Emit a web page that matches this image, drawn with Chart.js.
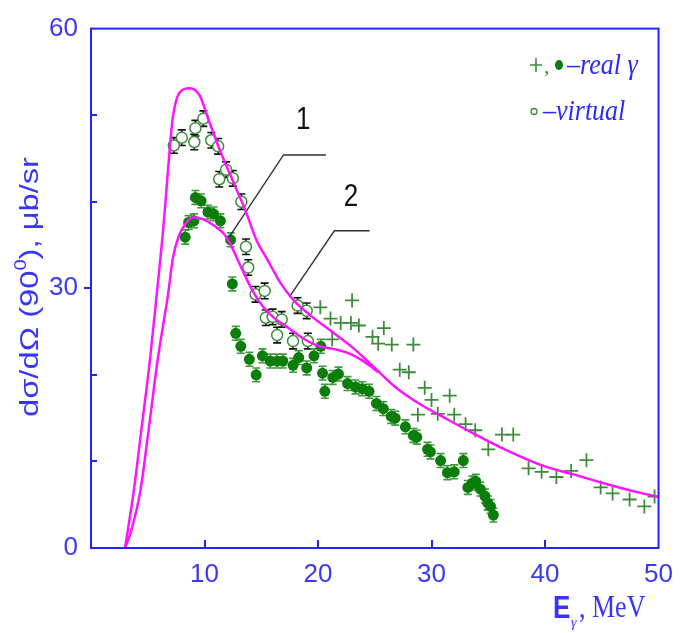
<!DOCTYPE html>
<html>
<head>
<meta charset="utf-8">
<script src="https://cdn.jsdelivr.net/npm/chart.js@4.4.0/dist/chart.umd.min.js"></script>
<style>
  html, body { margin: 0; padding: 0; background: #fff; }
  #wrap { width: 684px; height: 633px; }
</style>
</head>
<body>
<div id="wrap"><canvas id="chart" width="684" height="633"></canvas></div>
<script>
// virtual photons (open circles), MeV / mkb/sr
const virtualE  = [7.3, 8.0, 9.1, 9.2, 9.9, 10.6, 11.2, 11.3, 11.9, 12.5, 13.25, 13.65, 13.85, 14.5, 15.3, 15.4, 16.0, 16.4, 16.8, 17.8, 18.2, 19.0, 19.1];
const virtualXs = [46.5, 47.4, 46.9, 48.5, 49.6, 47.1, 46.4, 42.6, 43.7, 42.7, 40.0, 34.8, 32.4, 29.3, 29.7, 26.6, 26.7, 24.6, 26.4, 23.9, 28.0, 27.4, 23.9];
const virtualErr = 0.9;

// real photons, first set (filled circles)
const realDotE  = [8.3, 8.6, 9.07, 9.2, 9.7, 10.3, 10.8, 11.4, 12.3, 12.45, 12.75, 13.2, 13.95, 14.55, 15.1, 15.8, 16.4, 16.9, 17.8, 18.3, 19.0, 19.65, 20.25, 20.4, 20.6, 21.3, 21.8, 22.6, 23.3, 23.9, 24.5, 25.15, 25.75, 26.45, 26.8, 27.7, 28.4, 28.7, 29.65, 29.9, 30.8, 31.4, 32.0, 32.8, 33.2, 33.6, 33.9, 34.3, 34.7, 34.95, 35.2, 35.45];
const realDotXs = [35.9, 37.6, 37.8, 40.5, 40.1, 38.8, 38.6, 37.8, 35.6, 30.5, 24.8, 23.3, 21.8, 20.0, 22.2, 21.6, 21.6, 21.6, 21.1, 22.0, 20.8, 22.2, 23.3, 20.2, 18.1, 19.7, 20.1, 19.0, 18.6, 18.4, 18.1, 16.7, 16.1, 15.2, 15.0, 14.0, 13.0, 12.8, 11.4, 11.1, 10.1, 8.7, 8.8, 10.1, 7.0, 7.5, 7.7, 6.8, 6.0, 5.2, 4.8, 3.8];
const realDotErr = 0.8;

// real photons, second set (crosses)
const realCrossE  = [20.2, 21.1, 21.25, 22.0, 22.9, 23.0, 23.6, 24.8, 25.3, 25.8, 26.5, 27.2, 28.0, 28.4, 28.8, 29.4, 30.0, 30.55, 31.6, 32.0, 33.0, 33.85, 35.0, 36.2, 37.2, 38.55, 39.7, 41.0, 42.3, 43.65, 44.9, 45.95, 47.45, 48.75, 49.65];
const realCrossXs = [27.8, 26.5, 24.1, 26.0, 26.0, 28.6, 25.7, 24.4, 23.6, 25.4, 23.5, 20.6, 20.3, 23.5, 15.4, 18.5, 17.1, 15.5, 17.6, 15.4, 14.3, 13.6, 11.4, 13.1, 13.1, 9.2, 8.8, 8.2, 8.9, 10.15, 7.0, 6.3, 5.6, 4.8, 5.95];

// calculation 1 (lower curve)
const curve1E  = [3.0, 3.5, 4.35, 5.13, 5.88, 6.8, 7.2, 7.7, 8.3, 9.1, 10.0, 10.9, 11.7, 12.2, 13.2, 14.2, 15.2, 16.2, 17.0, 18.7, 20.1, 21.3, 22.5, 23.6, 24.5, 25.3];
const curve1Xs = [0, 1.8, 6.6, 14.2, 21.8, 29.4, 33.4, 35.9, 37.4, 38.2, 37.9, 37.2, 36.3, 35.3, 32.5, 29.8, 27.8, 26.5, 25.8, 24.2, 23.3, 23.0, 22.6, 21.9, 21.1, 20.3];

// calculation 2 (upper curve)
const curve2E  = [3.0, 3.77, 4.49, 5.2, 5.8, 6.4, 6.8, 7.2, 7.8, 8.7, 9.6, 10.4, 11.4, 12.5, 13.6, 14.6, 15.5, 16.7, 17.8, 19.3, 21.0, 23.0, 25.0, 26.8, 29.0, 31.2, 33.6, 36.6, 39.6, 42.5, 45.4, 48.3, 50.0];
const curve2Xs = [0, 6.6, 14.2, 21.8, 29.4, 37.4, 43.9, 49.6, 52.6, 53.1, 52.2, 49.3, 45.8, 42.4, 39.0, 35.5, 33.4, 30.6, 28.7, 26.9, 25.2, 23.2, 20.8, 18.6, 16.6, 15.0, 13.3, 11.3, 9.6, 8.5, 7.4, 6.4, 5.9];

// leader lines for the curve numbers
const leader1E  = [20.7, 16.96, 12.17];
const leader1Xs = [45.4, 45.4, 35.9];
const leader2E  = [24.55, 21.44, 17.48];
const leader2Xs = [36.65, 36.65, 29.0];
const curveTags = [{ t: '1', x: 18.7, y: 49.4 }, { t: '2', x: 22.9, y: 40.5 }];

const xTicks = [10, 20, 30, 40, 50];
const yTickLabels = [0, 30, 60];

const toPts = (xs, ys) => xs.map((v, i) => ({ x: v, y: ys[i] }));

const BLUE = '#2323ff';
const TICKBLUE = '#3a3af5';
const SANS = "'Liberation Sans Narrow', 'Liberation Sans', Arial, sans-serif";
const PLAIN = "'Liberation Sans', Arial, sans-serif";
const SERIF = "'Liberation Serif', 'Times New Roman', serif";

function stretched(ctx, txt, x, y, sy) {
    ctx.save();
    ctx.translate(x, y);
    ctx.scale(1, sy);
    ctx.fillText(txt, 0, 0);
    ctx.restore();
}

// error bars under the points
const errorBars = {
    id: 'errorBars',
    beforeDatasetsDraw(chart) {
        const { ctx, scales: { x, y } } = chart;
        chart.data.datasets.forEach(ds => {
            if (!ds.errY) return;
            ctx.save();
            ctx.strokeStyle = ds.errColor;
            ctx.lineWidth = 1.6;
            ds.data.forEach(p => {
                const px = x.getPixelForValue(p.x);
                const top = y.getPixelForValue(p.y + ds.errY);
                const bot = y.getPixelForValue(p.y - ds.errY);
                ctx.beginPath();
                ctx.moveTo(px, top); ctx.lineTo(px, bot);
                ctx.moveTo(px - 4, top); ctx.lineTo(px + 4, top);
                ctx.moveTo(px - 4, bot); ctx.lineTo(px + 4, bot);
                ctx.stroke();
            });
            ctx.restore();
        });
    }
};

// frame, inward ticks, titles, legend, curve numbers
const decorations = {
    id: 'decorations',
    afterDraw(chart) {
        const { ctx, chartArea: a, scales: { x, y } } = chart;
        ctx.save();
        ctx.strokeStyle = BLUE;
        ctx.lineWidth = 2;
        ctx.strokeRect(a.left, a.top, a.right - a.left, a.bottom - a.top);

        ctx.beginPath();
        [10, 20, 40, 50].forEach(v => {
            const py = Math.round(y.getPixelForValue(v));
            ctx.moveTo(a.left, py); ctx.lineTo(a.left + 6, py);
        });
        const p30 = Math.round(y.getPixelForValue(30));
        ctx.moveTo(a.left - 7, p30); ctx.lineTo(a.left, p30);
        [10, 20, 30, 40].forEach(v => {
            const px = Math.round(x.getPixelForValue(v));
            ctx.moveTo(px, a.bottom); ctx.lineTo(px, a.bottom - 8);
        });
        ctx.stroke();

        // y title, fitted to the span it has in the original (about 260 px)
        ctx.fillStyle = '#3535ff';
        ctx.save();
        ctx.translate(29, 287);
        ctx.rotate(-Math.PI / 2);
        ctx.textBaseline = 'middle';
        const big = '26px ' + PLAIN;
        const small = '16px ' + PLAIN;
        const parts = [['dσ/dΩ (90', big, 0], ['0', small, -9], ['), μb/sr', big, 0]];
        let total = 0;
        parts.forEach(p => { ctx.font = p[1]; total += ctx.measureText(p[0]).width; });
        ctx.scale(260 / total, 1);
        let cx = -total / 2;
        ctx.textAlign = 'left';
        parts.forEach(p => {
            ctx.font = p[1];
            ctx.fillText(p[0], cx, p[2] + 2);
            cx += ctx.measureText(p[0]).width;
        });
        ctx.restore();

        // x title
        ctx.textAlign = 'left';
        ctx.textBaseline = 'alphabetic';
        ctx.font = 'bold 26px ' + SANS;
        stretched(ctx, 'E', 553, 618, 1.2);
        ctx.font = 'italic 14px ' + SERIF;
        stretched(ctx, 'γ', 571, 627, 1.1);
        ctx.font = '26px ' + SERIF;
        stretched(ctx, ',', 579, 617, 1.18);
        stretched(ctx, 'MeV', 592, 617, 1.18);

        // legend
        ctx.strokeStyle = '#3c8c3c';
        ctx.lineWidth = 1.6;
        ctx.beginPath();
        ctx.moveTo(530, 65); ctx.lineTo(542, 65);
        ctx.moveTo(536, 58); ctx.lineTo(536, 72);
        ctx.stroke();
        ctx.fillStyle = '#3c8c3c';
        ctx.font = '22px ' + SERIF;
        ctx.fillText(',', 544, 73);
        ctx.fillStyle = '#0b7d0b';
        ctx.beginPath();
        ctx.ellipse(559, 65, 4, 5, 0, 0, Math.PI * 2);
        ctx.fill();
        ctx.beginPath();
        ctx.strokeStyle = '#3c8c3c';
        ctx.lineWidth = 1.3;
        ctx.arc(534, 111.5, 3, 0, Math.PI * 2);
        ctx.stroke();
        ctx.fillStyle = '#2a2aff';
        ctx.font = 'italic 26px ' + SERIF;
        stretched(ctx, '–real γ', 567, 74, 1.15);
        stretched(ctx, '–virtual', 543, 120, 1.15);

        // curve numbers
        ctx.fillStyle = '#111';
        ctx.font = '26px ' + PLAIN;
        ctx.textAlign = 'center';
        ctx.textBaseline = 'middle';
        curveTags.forEach(c => {
            stretched(ctx, c.t, x.getPixelForValue(c.x), y.getPixelForValue(c.y), 1.2);
        });
        ctx.restore();
    }
};

const tickFont = { family: SANS, size: 26 };

new Chart(document.getElementById('chart'), {
    type: 'scatter',
    data: {
        datasets: [
            {
                label: 'curve 1',
                data: toPts(curve1E, curve1Xs),
                showLine: true,
                borderColor: '#ff14ff',
                borderWidth: 2.5,
                pointRadius: 0,
                cubicInterpolationMode: 'monotone',
                order: 0
            },
            {
                label: 'curve 2',
                data: toPts(curve2E, curve2Xs),
                showLine: true,
                borderColor: '#ff14ff',
                borderWidth: 2.5,
                pointRadius: 0,
                cubicInterpolationMode: 'monotone',
                order: 0
            },
            {
                label: 'leader 1',
                data: toPts(leader1E, leader1Xs),
                showLine: true,
                borderColor: '#333',
                borderWidth: 1.4,
                pointRadius: 0,
                order: 0
            },
            {
                label: 'leader 2',
                data: toPts(leader2E, leader2Xs),
                showLine: true,
                borderColor: '#333',
                borderWidth: 1.4,
                pointRadius: 0,
                order: 0
            },
            {
                label: 'virtual',
                data: toPts(virtualE, virtualXs),
                pointStyle: 'circle',
                pointRadius: 5.5,
                backgroundColor: '#ffffff',
                borderColor: '#3c8c3c',
                borderWidth: 1.5,
                errY: virtualErr,
                errColor: '#111',
                order: 2
            },
            {
                label: 'real (dots)',
                data: toPts(realDotE, realDotXs),
                pointStyle: 'circle',
                pointRadius: 5.5,
                backgroundColor: '#0b7d0b',
                borderColor: '#0b7d0b',
                borderWidth: 0,
                errY: realDotErr,
                errColor: '#3f9a3f',
                order: 3
            },
            {
                label: 'real (crosses)',
                data: toPts(realCrossE, realCrossXs),
                pointStyle: 'cross',
                pointRadius: 7,
                borderColor: '#3c8c3c',
                borderWidth: 1.8,
                order: 1
            }
        ]
    },
    options: {
        responsive: false,
        animation: false,
        devicePixelRatio: 1,
        layout: { padding: { top: 22, right: 17, left: 0, bottom: 0 } },
        plugins: { legend: { display: false }, tooltip: { enabled: false } },
        scales: {
            x: {
                type: 'linear',
                min: 0,
                max: 50,
                afterFit: s => { s.height = 85; },
                afterBuildTicks: s => { s.ticks = xTicks.map(v => ({ value: v })); },
                grid: { display: false, drawTicks: false },
                border: { display: false },
                ticks: { color: TICKBLUE, font: tickFont, padding: 11, maxRotation: 0 }
            },
            y: {
                type: 'linear',
                min: 0,
                max: 60,
                afterFit: s => { s.width = 91; },
                afterBuildTicks: s => { s.ticks = yTickLabels.map(v => ({ value: v })); },
                grid: { display: false, drawTicks: false },
                border: { display: false },
                ticks: { color: TICKBLUE, font: tickFont, padding: 13 }
            }
        }
    },
    plugins: [errorBars, decorations]
});
</script>
</body>
</html>
